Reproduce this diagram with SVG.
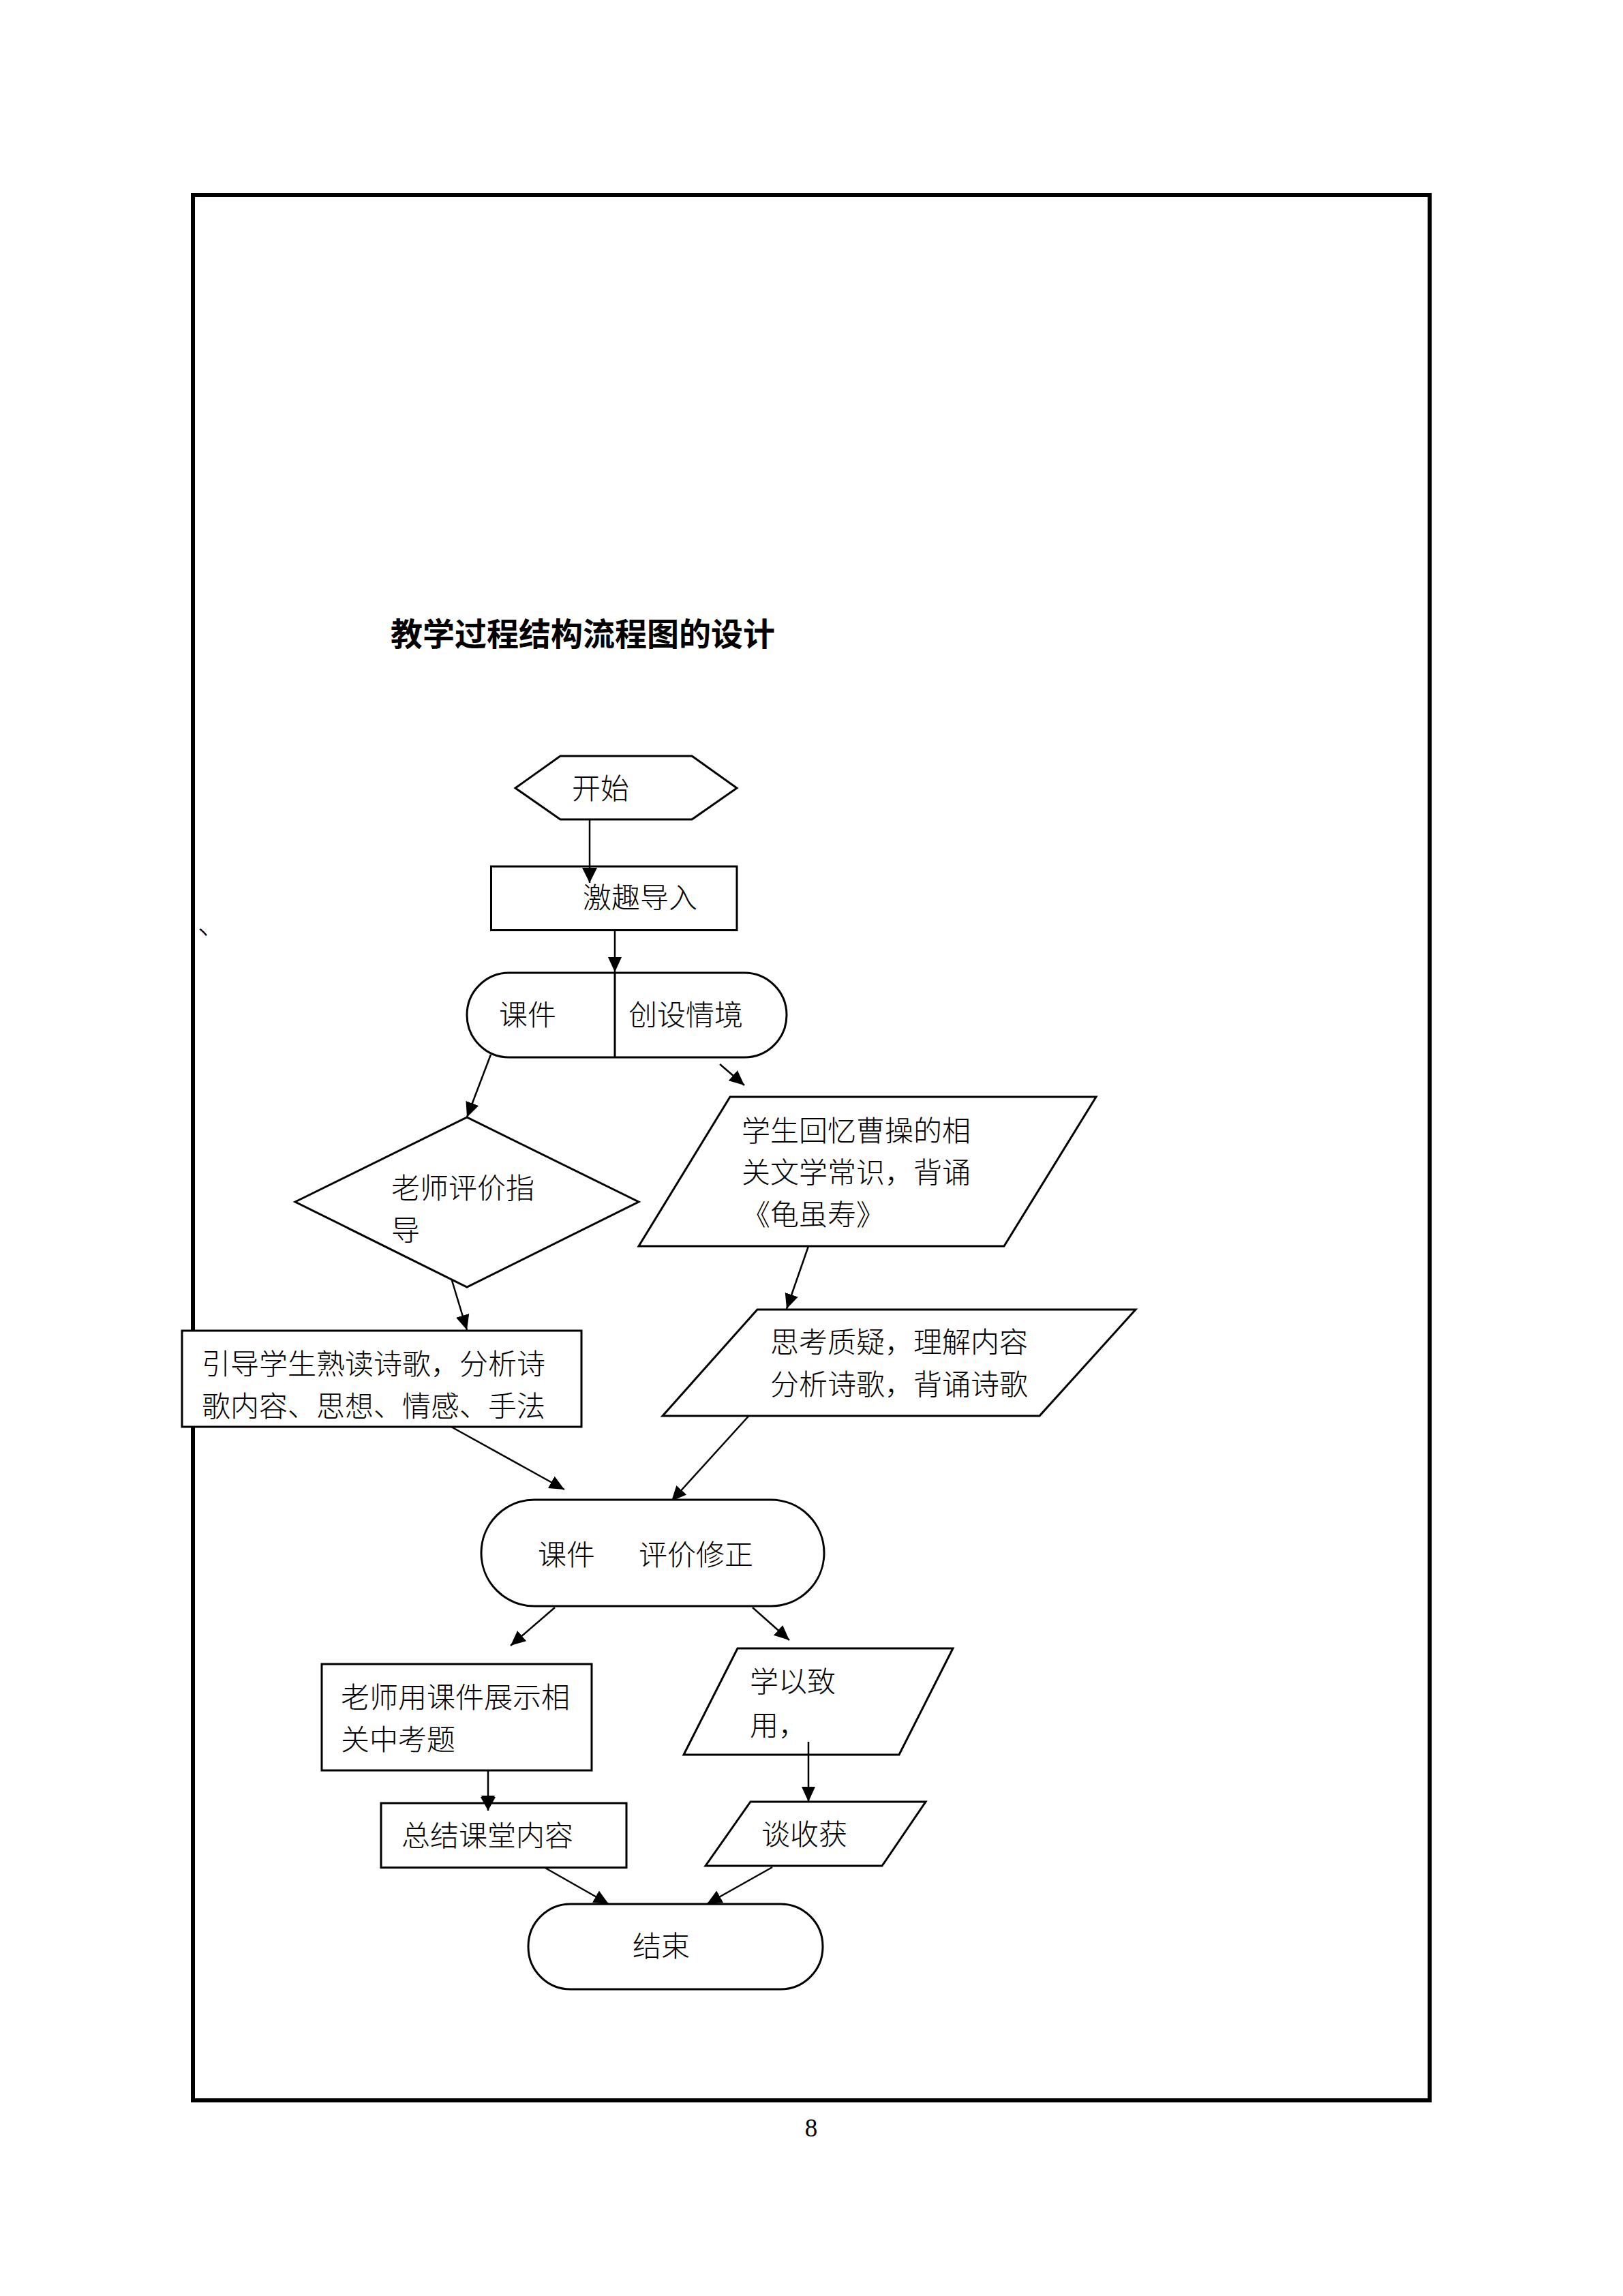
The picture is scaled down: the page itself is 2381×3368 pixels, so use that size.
<svg xmlns="http://www.w3.org/2000/svg" width="2381" height="3368" viewBox="0 0 2381 3368">
<defs>
<marker id="ah" markerUnits="userSpaceOnUse" markerWidth="22" markerHeight="22" viewBox="0 0 22 22" refX="22" refY="11" orient="auto">
<path d="M0,1 L22,11 L0,21 z" fill="#000"/>
</marker>
<style>
.s{fill:#fff;stroke:#000;stroke-width:3}
.c{fill:none;stroke:#000;stroke-width:2.5;marker-end:url(#ah)}
.t{font-family:"Noto Sans CJK SC","Liberation Serif",sans-serif;font-size:42px;font-weight:300;fill:#000;dominant-baseline:central}
.h{font-family:"Noto Sans CJK SC","Liberation Sans",sans-serif;font-size:47px;font-weight:700;fill:#000;dominant-baseline:central}
</style>
</defs>
<rect width="2381" height="3368" fill="#fff"/>
<rect id="page" x="283" y="286" width="1814.5" height="2795" fill="none" stroke="#000" stroke-width="6"/>
<text class="h" x="573" y="926">教学过程结构流程图的设计</text>
<text class="t" x="290" y="1371" style="dominant-baseline:auto">、</text>
<text x="1190" y="3134" text-anchor="middle" font-family="Liberation Serif, serif" font-size="37">8</text>

<g id="connectors">
<line class="c" x1="865" y1="1202" x2="865" y2="1295"/>
<line class="c" x1="902" y1="1365" x2="902" y2="1426"/>
<line class="c" x1="720" y1="1547" x2="685" y2="1639"/>
<line class="c" x1="1056" y1="1561" x2="1092" y2="1592"/>
<line class="c" x1="662" y1="1875" x2="685" y2="1951"/>
<line class="c" x1="1186" y1="1828" x2="1154" y2="1920"/>
<line class="c" x1="662" y1="2093" x2="828" y2="2185"/>
<line class="c" x1="1103" y1="2072" x2="985" y2="2202"/>
<line class="c" x1="814" y1="2358" x2="749" y2="2414"/>
<line class="c" x1="1104" y1="2358" x2="1158" y2="2406"/>
<line class="c" x1="716" y1="2597" x2="716" y2="2656"/>
<line class="c" x1="1186" y1="2555" x2="1186" y2="2643"/>
<line class="c" x1="791" y1="2735" x2="893" y2="2793"/>
<line class="c" x1="1133" y1="2739" x2="1037" y2="2793"/>
</g>

<g id="start">
<polygon class="s" points="756,1156 822,1109 1015,1109 1081,1156 1015,1202 822,1202"/>
<text class="t" x="839" y="1153">开始</text>
</g>
<g id="intro">
<rect class="s" x="720.5" y="1271" width="360.5" height="93.5"/>
<line x1="865" y1="1271" x2="865" y2="1295" stroke="#000" stroke-width="2.5"/>
<path d="M854,1273 L865,1295 L876,1273 z" fill="#000"/>
<text class="t" x="855" y="1313">激趣导入</text>
</g>
<g id="scene">
<rect class="s" x="685" y="1427" width="469" height="124" rx="62" ry="62"/>
<line x1="902" y1="1427" x2="902" y2="1551" stroke="#000" stroke-width="3"/>
<text class="t" x="732" y="1485">课件</text>
<text class="t" x="922" y="1485">创设情境</text>
</g>
<g id="teacher-eval">
<polygon class="s" points="433,1763 685,1639 937,1763 685,1888"/>
<text class="t" x="574" y="1739">老师评价指</text>
<text class="t" x="574" y="1801">导</text>
</g>
<g id="recall">
<polygon class="s" points="1071,1609 1608,1609 1473,1828 937,1828"/>
<text class="t" x="1088" y="1655">学生回忆曹操的相</text>
<text class="t" x="1088" y="1716">关文学常识，背诵</text>
<text class="t" x="1088" y="1778">《龟虽寿》</text>
</g>
<g id="think">
<polygon class="s" points="1111,1921 1666,1921 1525,2077 972,2077"/>
<text class="t" x="1130" y="1965">思考质疑，理解内容</text>
<text class="t" x="1130" y="2027">分析诗歌，背诵诗歌</text>
</g>
<g id="guide">
<rect class="s" x="267" y="1952" width="586" height="141"/>
<text class="t" x="296" y="1997">引导学生熟读诗歌，分析诗</text>
<text class="t" x="296" y="2059">歌内容、思想、情感、手法</text>
</g>
<g id="revise">
<rect class="s" x="706" y="2200" width="503" height="156" rx="78" ry="78"/>
<text class="t" x="789" y="2277">课件</text>
<text class="t" x="937" y="2277">评价修正</text>
</g>
<g id="exam">
<rect class="s" x="472" y="2441" width="396" height="156"/>
<text class="t" x="500" y="2486">老师用课件展示相</text>
<text class="t" x="500" y="2548">关中考题</text>
</g>
<g id="apply">
<polygon class="s" points="1082,2418 1398,2418 1319,2574 1003,2574"/>
<text class="t" x="1100" y="2463">学以致</text>
<text class="t" x="1100" y="2527">用，</text>
<line x1="1186" y1="2555" x2="1186" y2="2574" stroke="#000" stroke-width="2.5"/>
</g>
<g id="summary">
<rect class="s" x="559" y="2645" width="360" height="94.5"/>
<line x1="716" y1="2645" x2="716" y2="2656" stroke="#000" stroke-width="2.5"/>
<path d="M705,2636 L716,2656 L727,2636 z" fill="#000"/>
<text class="t" x="589" y="2689">总结课堂内容</text>
</g>
<g id="harvest">
<polygon class="s" points="1101,2643 1358,2643 1294,2737 1035,2737"/>
<text class="t" x="1117" y="2687">谈收获</text>
</g>
<g id="end">
<rect class="s" x="775" y="2793" width="432" height="125" rx="62" ry="62"/>
<text class="t" x="928" y="2851">结束</text>
</g>
</svg>
